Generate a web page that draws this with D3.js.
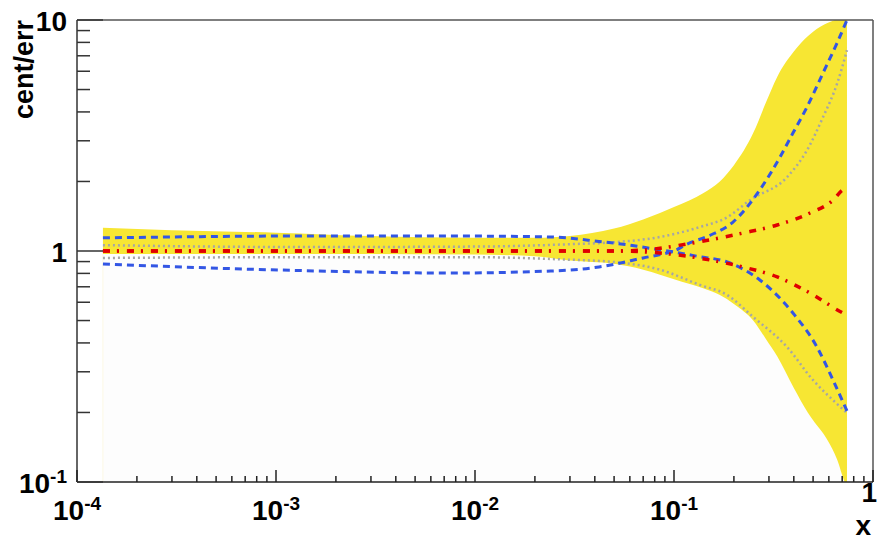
<!DOCTYPE html>
<html>
<head>
<meta charset="utf-8">
<script src="https://cdn.jsdelivr.net/npm/d3@7"></script>
<style>
  body { margin: 0; background: #fff; }
  svg text { font-family: "Liberation Sans", Arial, Helvetica, sans-serif; font-weight: bold; fill: #000; }
</style>
</head>
<body>
<svg id="chart" width="878" height="541"></svg>
<script>
// error band (yellow), x values shared by upper and lower edge
const bandX  = [1.35e-4, 3e-4, 1e-3, 3e-3, 1e-2, 2e-2, 3e-2, 0.05, 0.07, 0.085, 0.1, 0.12, 0.14, 0.17, 0.2, 0.25, 0.29, 0.33, 0.4, 0.47, 0.5, 0.59, 0.66, 0.72, 0.74];
const bandHi = [1.26, 1.23, 1.20, 1.16, 1.14, 1.14, 1.16, 1.25, 1.37, 1.46, 1.55, 1.66, 1.78, 2.0, 2.35, 3.24, 4.4, 5.67, 7.3, 8.5, 8.9, 9.7, 10.1, 10.5, 10.6];
const bandLo = [0.97, 0.97, 0.97, 0.97, 0.965, 0.95, 0.91, 0.88, 0.83, 0.79, 0.755, 0.72, 0.69, 0.645, 0.59, 0.5, 0.415, 0.35, 0.255, 0.2, 0.185, 0.152, 0.125, 0.1, 0.095];

// blue dashed pair (they cross near x = 0.1)
const blueA = [[1.35e-4, 1.14], [3e-4, 1.15], [1e-3, 1.16], [3e-3, 1.16], [1e-2, 1.16], [2.4e-2, 1.15], [4.2e-2, 1.10], [0.06, 1.06], [0.08, 1.02], [0.1, 0.99], [0.13, 0.95], [0.185, 0.896], [0.27, 0.749], [0.396, 0.539], [0.523, 0.384], [0.63, 0.276], [0.74, 0.203]];
const blueB = [[1.35e-4, 0.878], [1.05e-3, 0.827], [7.5e-3, 0.803], [2.4e-2, 0.819], [4.2e-2, 0.853], [0.048, 0.87], [0.07, 0.933], [0.09, 0.975], [0.1, 1.0], [0.116, 1.07], [0.152, 1.17], [0.198, 1.335], [0.27, 1.84], [0.341, 2.55], [0.396, 3.24], [0.466, 4.2], [0.561, 5.9], [0.66, 7.95], [0.74, 10.0]];

// grey dotted pair
const greyUp = [[1.35e-4, 1.06], [1.3e-3, 1.04], [1e-2, 1.045], [0.03, 1.07], [0.052, 1.094], [0.085, 1.15], [0.135, 1.27], [0.185, 1.40], [0.241, 1.66], [0.37, 2.09], [0.466, 2.73], [0.561, 3.8], [0.66, 5.3], [0.74, 7.4]];
const greyLo = [[1.35e-4, 0.933], [1.3e-3, 0.94], [1e-2, 0.94], [0.027, 0.92], [0.05, 0.896], [0.085, 0.83], [0.135, 0.713], [0.185, 0.645], [0.25, 0.518], [0.37, 0.384], [0.5, 0.276], [0.63, 0.226], [0.74, 0.199]];

// red dash-dot pair (central value)
const redUp = [[1.35e-4, 1.0], [1e-3, 1.0], [1e-2, 1.0], [0.05, 1.0], [0.07, 1.01], [0.124, 1.083], [0.222, 1.196], [0.33, 1.296], [0.482, 1.46], [0.63, 1.66], [0.706, 1.84], [0.74, 1.87]];
const redLo = [[1.35e-4, 1.0], [1e-3, 1.0], [1e-2, 1.0], [0.05, 1.0], [0.085, 0.98], [0.152, 0.914], [0.222, 0.853], [0.33, 0.772], [0.482, 0.658], [0.706, 0.539], [0.74, 0.528]];

// tick labels
const xTickVals = [1e-4, 1e-3, 1e-2, 1e-1, 1];
const xTickLabels = [['10', '-4'], ['10', '-3'], ['10', '-2'], ['10', '-1'], ['1', '']];
const yTickVals = [0.1, 1, 10];
const yTickLabels = [['10', '-1'], ['1', ''], ['10', '']];

const svg = d3.select('#chart');
const margin = { left: 77, right: 873, top: 20, bottom: 482 };

const x = d3.scaleLog().domain([1e-4, 1]).range([margin.left, margin.right]);
const y = d3.scaleLog().domain([0.1, 10]).range([margin.bottom, margin.top]);

svg.append('defs').append('clipPath').attr('id', 'plot')
  .append('rect').attr('x', margin.left).attr('y', margin.top)
  .attr('width', margin.right - margin.left).attr('height', margin.bottom - margin.top);

const g = svg.append('g').attr('clip-path', 'url(#plot)');
const band = bandX.map((v, i) => ({ x: v, hi: bandHi[i], lo: bandLo[i] }));

// pale fill under the band
g.append('path')
  .datum(band)
  .attr('d', d3.area().x(d => x(d.x)).y0(y(0.1)).y1(d => y(d.lo)).curve(d3.curveMonotoneX))
  .attr('fill', '#fdfdfd')
  .attr('stroke', 'none');
g.append('line')
  .attr('x1', x(bandX[0])).attr('x2', x(bandX[0]))
  .attr('y1', y(bandLo[0])).attr('y2', y(0.1))
  .attr('stroke', '#fcf8e4').attr('stroke-width', 1);

// yellow band
g.append('path')
  .datum(band)
  .attr('d', d3.area().x(d => x(d.x)).y0(d => y(d.lo)).y1(d => y(d.hi)).curve(d3.curveMonotoneX))
  .attr('fill', '#f7e633');

const line = d3.line().x(d => x(d[0])).y(d => y(d[1])).curve(d3.curveMonotoneX);

[greyUp, greyLo].forEach(s => {
  g.append('path').datum(s).attr('d', line)
    .attr('fill', 'none').attr('stroke', '#a6a6a6').attr('stroke-width', 2.5)
    .attr('stroke-dasharray', '2,3');
});
[blueA, blueB].forEach(s => {
  g.append('path').datum(s).attr('d', line)
    .attr('fill', 'none').attr('stroke', '#3356e4').attr('stroke-width', 3)
    .attr('stroke-dasharray', '7,5');
});
[redUp, redLo].forEach(s => {
  g.append('path').datum(s).attr('d', line)
    .attr('fill', 'none').attr('stroke', '#e00000').attr('stroke-width', 3.5)
    .attr('stroke-dasharray', '7,7,2,8');
});

// frame
svg.append('line').attr('x1', margin.left).attr('x2', margin.right).attr('y1', margin.top).attr('y2', margin.top)
  .attr('stroke', '#555').attr('stroke-width', 1.5);
svg.append('line').attr('x1', margin.right).attr('x2', margin.right).attr('y1', margin.top).attr('y2', margin.bottom)
  .attr('stroke', '#555').attr('stroke-width', 1.5);
svg.append('line').attr('x1', margin.left).attr('x2', margin.left).attr('y1', margin.top).attr('y2', margin.bottom)
  .attr('stroke', '#333').attr('stroke-width', 1.5);
svg.append('line').attr('x1', margin.left).attr('x2', margin.right).attr('y1', margin.bottom).attr('y2', margin.bottom)
  .attr('stroke', '#222').attr('stroke-width', 1.5);

// ticks: majors at decades, minors 2..9
const decadeTicks = (lo, hi) => {
  const out = [];
  for (let e = lo; e < hi; e++) {
    for (let m = 1; m < 10; m++) out.push({ v: m * Math.pow(10, e), major: m === 1 });
  }
  out.push({ v: Math.pow(10, hi), major: true });
  return out;
};

svg.append('g').selectAll('line')
  .data(decadeTicks(-4, 0))
  .enter().append('line')
  .attr('x1', d => x(d.v)).attr('x2', d => x(d.v))
  .attr('y1', margin.bottom).attr('y2', d => margin.bottom - (d.major ? 12 : 6))
  .attr('stroke', '#222').attr('stroke-width', 1.5);

svg.append('g').selectAll('line')
  .data(decadeTicks(-1, 1))
  .enter().append('line')
  .attr('x1', margin.left).attr('x2', d => margin.left + (d.major ? 26 : 13))
  .attr('y1', d => y(d.v)).attr('y2', d => y(d.v))
  .attr('stroke', '#333').attr('stroke-width', 1.5);

// tick labels with superscript exponent
function addLabel(sel, lab) {
  sel.append('tspan').text(lab[0]);
  if (lab[1]) sel.append('tspan').attr('font-size', 19).attr('dy', -10).text(lab[1]);
}

xTickVals.forEach((v, i) => {
  const lab = xTickLabels[i];
  const last = !lab[1];
  const t = svg.append('text')
    .attr('x', last ? 877 : x(v)).attr('y', last ? 502 : 520)
    .attr('text-anchor', last ? 'end' : 'middle')
    .attr('font-size', 28);
  addLabel(t, lab);
});

yTickVals.forEach((v, i) => {
  const lab = yTickLabels[i];
  const t = svg.append('text')
    .attr('x', 67).attr('y', y(v) + 11)
    .attr('text-anchor', 'end')
    .attr('font-size', 28);
  addLabel(t, lab);
});

// axis titles
svg.append('text')
  .attr('x', 871).attr('y', 535)
  .attr('text-anchor', 'end')
  .attr('font-size', 28)
  .text('x');

svg.append('text')
  .attr('transform', 'translate(33,20) rotate(-90)')
  .attr('text-anchor', 'end')
  .attr('font-size', 27)
  .text('cent/err');
</script>
</body>
</html>
